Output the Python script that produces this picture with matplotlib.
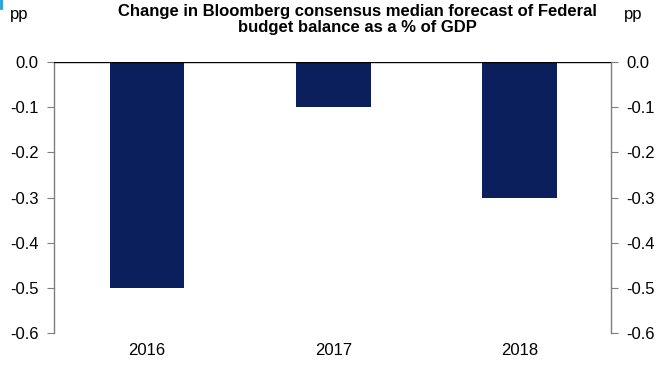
import matplotlib.pyplot as plt
import numpy as np

plt.rcParams['font.family'] = ['Liberation Sans', 'DejaVu Sans']

years = ['2016', '2017', '2018']
change_pp = [-0.5, -0.1, -0.3]
yticks = [0.0, -0.1, -0.2, -0.3, -0.4, -0.5, -0.6]

fig = plt.figure(figsize=(6.56, 3.66), dpi=100)
ax = fig.add_axes([54 / 656, 1 - 333 / 366, 557 / 656, 271 / 366])

x = np.arange(len(years))
ax.bar(x, change_pp, width=0.4, color='#0b1f5c', zorder=2)
ax.axhline(0, color='black', lw=1.0, zorder=3)

ax.set_xlim(-0.5, 2.49)
ax.set_ylim(-0.6, 0.0)
ax.set_xticks(x)
ax.set_xticklabels(years)
ax.set_yticks(yticks)
ax.set_yticklabels([f'{v:.1f}' for v in yticks])

for s in ['top', 'bottom']:
    ax.spines[s].set_visible(False)
for s in ['left', 'right']:
    ax.spines[s].set_color('#7f7f7f')
    ax.spines[s].set_linewidth(1.0)

ax.tick_params(axis='x', length=0, labelsize=12, pad=7)
ax.tick_params(axis='y', which='both', left=True, right=True, labelleft=True,
               labelright=True, direction='out', length=5, color='#7f7f7f',
               labelsize=12, pad=6)

fig.text(10 / 656, 1 - 15 / 366, 'pp', fontsize=12, va='center', ha='left')
fig.text(624 / 656, 1 - 15 / 366, 'pp', fontsize=12, va='center', ha='left')
fig.text(357 / 656, 1 - 19.5 / 366,
         'Change in Bloomberg consensus median forecast of Federal\nbudget balance as a % of GDP',
         fontsize=12, fontweight='bold', ha='center', va='center', linespacing=1.08)

# small accent mark in the corner
fig.add_artist(plt.Line2D([1 / 656, 1 / 656], [1, 1 - 8 / 366], color='#1aa0e0', lw=2))

fig.savefig('out.png', dpi=100)
